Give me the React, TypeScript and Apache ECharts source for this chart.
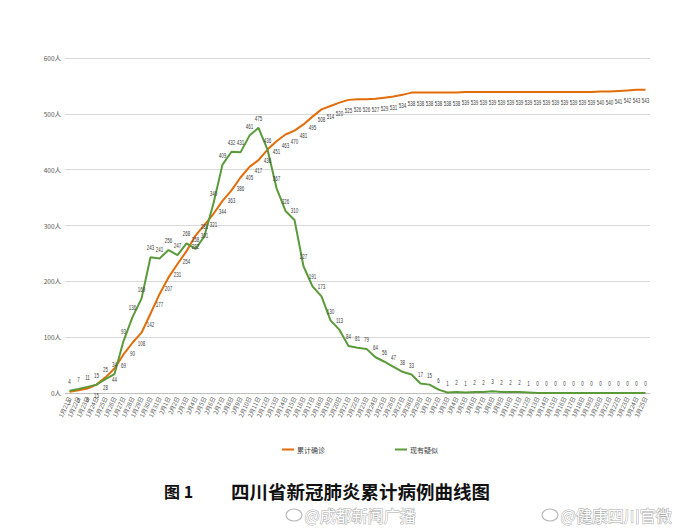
import React, { useEffect, useRef } from "react";
import * as echarts from "echarts";

const dates = [
  "1月21日", "1月22日", "1月23日", "1月24日", "1月25日", "1月26日", "1月27日", "1月28日", "1月29日", "1月30日", "1月31日",
  "2月1日", "2月2日", "2月3日", "2月4日", "2月5日", "2月6日", "2月7日", "2月8日", "2月9日", "2月10日",
  "2月11日", "2月12日", "2月13日", "2月14日", "2月15日", "2月16日", "2月17日", "2月18日", "2月19日", "2月20日",
  "2月21日", "2月22日", "2月23日", "2月24日", "2月25日", "2月26日", "2月27日", "2月28日", "2月29日",
  "3月1日", "3月2日", "3月3日", "3月4日", "3月5日", "3月6日", "3月7日", "3月8日", "3月9日", "3月10日",
  "3月11日", "3月12日", "3月13日", "3月14日", "3月15日", "3月16日", "3月17日", "3月18日", "3月19日", "3月20日",
  "3月21日", "3月22日", "3月23日", "3月24日", "3月25日",
];

const confirmed = [
  2, 5, 8, 15, 28, 44, 69, 90, 108, 142, 177,
  207, 231, 254, 282, 301, 321, 344, 363, 386, 405,
  417, 436, 451, 463, 470, 481, 495, 508, 514, 520,
  525, 526, 526, 527, 529, 531, 534, 538, 538,
  538, 538, 538, 538, 539, 539, 539, 539, 539, 539,
  539, 539, 539, 539, 539, 539, 539, 539, 539, 540,
  540, 541, 542, 543, 543,
];

const suspected = [
  4, 7, 11, 15, 25, 34, 93, 136, 169, 243, 241,
  256, 247, 268, 258, 281, 340, 409, 432, 431, 461,
  475, 436, 367, 326, 310, 227, 191, 173, 130, 113,
  84, 81, 79, 64, 56, 47, 38, 33, 17,
  15, 6, 1, 2, 1, 2, 2, 3, 2, 2,
  2, 1, 0, 0, 0, 0, 0, 0, 0, 0,
  0, 0, 0, 0, 0,
];

const seriesNames = ["累计确诊", "现有疑似"];
const captionNo = "图 1";
const captionText = "四川省新冠肺炎累计病例曲线图";
const watermarks = ["@成都新闻广播", "@健康四川官微"];

const ORANGE = "#e36c0a";
const GREEN = "#5a9a3a";

function labelSeries(values: number[], offsetY: number) {
  return {
    type: "custom",
    data: values.map((v, i) => [i, v]),
    silent: true,
    clip: false,
    z: 6,
    renderItem: (_params: any, api: any) => {
      const p = api.coord([api.value(0), api.value(1)]);
      return {
        type: "text",
        x: p[0],
        y: p[1] + offsetY,
        scaleX: 0.56,
        style: {
          text: String(api.value(1)),
          fontSize: 8,
          fill: "#404040",
          align: "center",
          verticalAlign: "middle",
          fontFamily: "Liberation Sans",
        },
      };
    },
  };
}

export default function App() {
  const ref = useRef<HTMLDivElement>(null);
  useEffect(() => {
    if (!ref.current) return;
    const chart = echarts.init(ref.current, undefined, { renderer: "svg" });
    chart.setOption({
      animation: false,
      backgroundColor: "#ffffff",
      grid: { left: 65, right: 40, top: 58, bottom: 136 },
      legend: {
        data: seriesNames,
        left: 277,
        top: 441,
        itemGap: 70,
        itemWidth: 12,
        itemHeight: 2,
        icon: "rect",
        textStyle: { fontSize: 7, color: "#404040", fontFamily: "Noto Sans CJK SC", padding: [0, 0, 0, -2] },
      },
      xAxis: {
        type: "category",
        data: dates,
        boundaryGap: true,
        axisLine: { lineStyle: { color: "#bfbfbf", width: 1 } },
        axisTick: { show: false },
        axisLabel: {
          interval: 0,
          rotate: 65,
          fontSize: 6,
          color: "#595959",
          margin: 4,
          fontFamily: "Noto Sans CJK SC",
        },
      },
      yAxis: {
        type: "value",
        min: 0,
        max: 600,
        interval: 100,
        axisLine: { show: false },
        axisTick: { show: false },
        axisLabel: {
          formatter: "{value}人",
          fontSize: 6.5,
          color: "#595959",
          margin: 4,
          fontFamily: "Noto Sans CJK SC",
        },
        splitLine: { lineStyle: { color: "#d9d9d9", width: 1 } },
      },
      series: [
        {
          name: seriesNames[0],
          type: "line",
          data: confirmed,
          symbol: "none",
          lineStyle: { color: ORANGE, width: 2 },
          itemStyle: { color: ORANGE },
          z: 2,
        },
        {
          name: seriesNames[1],
          type: "line",
          data: suspected,
          symbol: "none",
          lineStyle: { color: GREEN, width: 2 },
          itemStyle: { color: GREEN },
          z: 3,
        },
        labelSeries(confirmed, 10),
        labelSeries(suspected, -10),
      ],
      graphic: [
        {
          type: "text",
          left: 164,
          top: 483,
          style: {
            text: captionNo,
            fontSize: 16,
            fontWeight: "bold",
            fill: "#111111",
            fontFamily: "Noto Sans CJK SC",
          },
        },
        {
          type: "text",
          left: 231,
          top: 482,
          style: {
            text: captionText,
            fontSize: 18.5,
            fontWeight: "bold",
            fill: "#111111",
            fontFamily: "Noto Sans CJK SC",
          },
        },
        {
          type: "ellipse",
          shape: { cx: 294, cy: 515, rx: 8, ry: 6 },
          style: { fill: "none", stroke: "#b8b8b8", lineWidth: 1.2 },
        },
        {
          type: "text",
          left: 304,
          top: 506,
          style: {
            text: watermarks[0],
            fontSize: 16,
            fill: "#ffffff",
            stroke: "#aaaaaa",
            lineWidth: 1,
            fontFamily: "Noto Sans CJK SC",
          },
        },
        {
          type: "ellipse",
          shape: { cx: 550, cy: 515, rx: 8, ry: 6 },
          style: { fill: "none", stroke: "#b8b8b8", lineWidth: 1.2 },
        },
        {
          type: "text",
          left: 560,
          top: 506,
          style: {
            text: watermarks[1],
            fontSize: 16,
            fill: "#ffffff",
            stroke: "#aaaaaa",
            lineWidth: 1,
            fontFamily: "Noto Sans CJK SC",
          },
        },
      ],
    });
    return () => chart.dispose();
  }, []);
  return (
    <div
      ref={ref}
      style={{ position: "fixed", left: 0, top: 0, width: 690, height: 529, background: "#fff" }}
    />
  );
}
